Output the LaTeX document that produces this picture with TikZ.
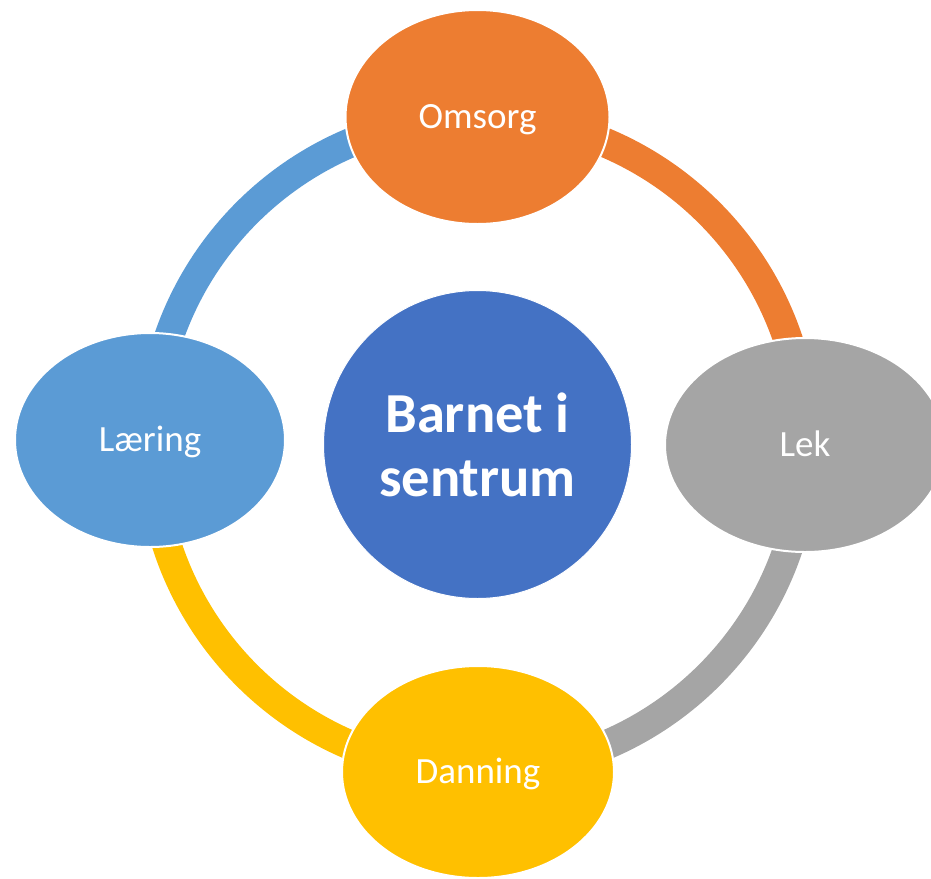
\documentclass[tikz,border=0pt]{standalone}
\usepackage{fontspec}
\setmainfont{Carlito}
\usetikzlibrary{shapes.geometric}
\definecolor{cOrange}{HTML}{ED7D31}
\definecolor{cGray}{HTML}{A5A5A5}
\definecolor{cYellow}{HTML}{FFC000}
\definecolor{cLblue}{HTML}{5B9BD5}
\definecolor{cBlue}{HTML}{4472C4}
\begin{document}
\begin{tikzpicture}[x=1pt,y=-1pt,
  bubble/.style={ellipse, draw=white, line width=2pt, inner sep=0pt, text=white,
    font=\fontsize{37}{44}\selectfont, text height=23.8pt, text depth=0pt},
  ringarc/.style={line width=29.5pt, line cap=butt}]
\useasboundingbox (0,0) rectangle (931,878);
\clip (0,0) rectangle (931,878);
\coordinate (C) at (478,444);
\path (C) ++(-90:327) coordinate (pO);
\path (C) ++(0:327) coordinate (pL);
\path (C) ++(90:327) coordinate (pD);
\path (C) ++(180:327) coordinate (pLa);
% ring arcs
\draw[ringarc, draw=cOrange] (pO) arc[start angle=-90, end angle=0, radius=327];
\draw[ringarc, draw=cGray] (pL) arc[start angle=0, end angle=90, radius=327];
\draw[ringarc, draw=cYellow] (pD) arc[start angle=90, end angle=180, radius=327];
\draw[ringarc, draw=cLblue] (pLa) arc[start angle=180, end angle=270, radius=327];
% nodes
\node[bubble, fill=cOrange, minimum width=264pt, minimum height=214pt] (Omsorg) at (477.5,117) {Omsorg};
\node[bubble, fill=cGray, minimum width=280pt, minimum height=214pt] (Lek) at (805,445) {Lek};
\node[bubble, fill=cYellow, minimum width=272pt, minimum height=212pt] (Danning) at (478,772) {Danning};
\node[bubble, fill=cLblue, minimum width=270pt, minimum height=214pt] (Laering) at (150,440) {Læring};
\node[circle, fill=cBlue, draw=white, line width=1pt, minimum size=308pt, inner sep=0pt,
  text=white, align=center, font=\fontsize{56.5}{64}\bfseries\selectfont] (Barnet) at (477.5,444.5) {Barnet i\\sentrum};
\end{tikzpicture}
\end{document}
